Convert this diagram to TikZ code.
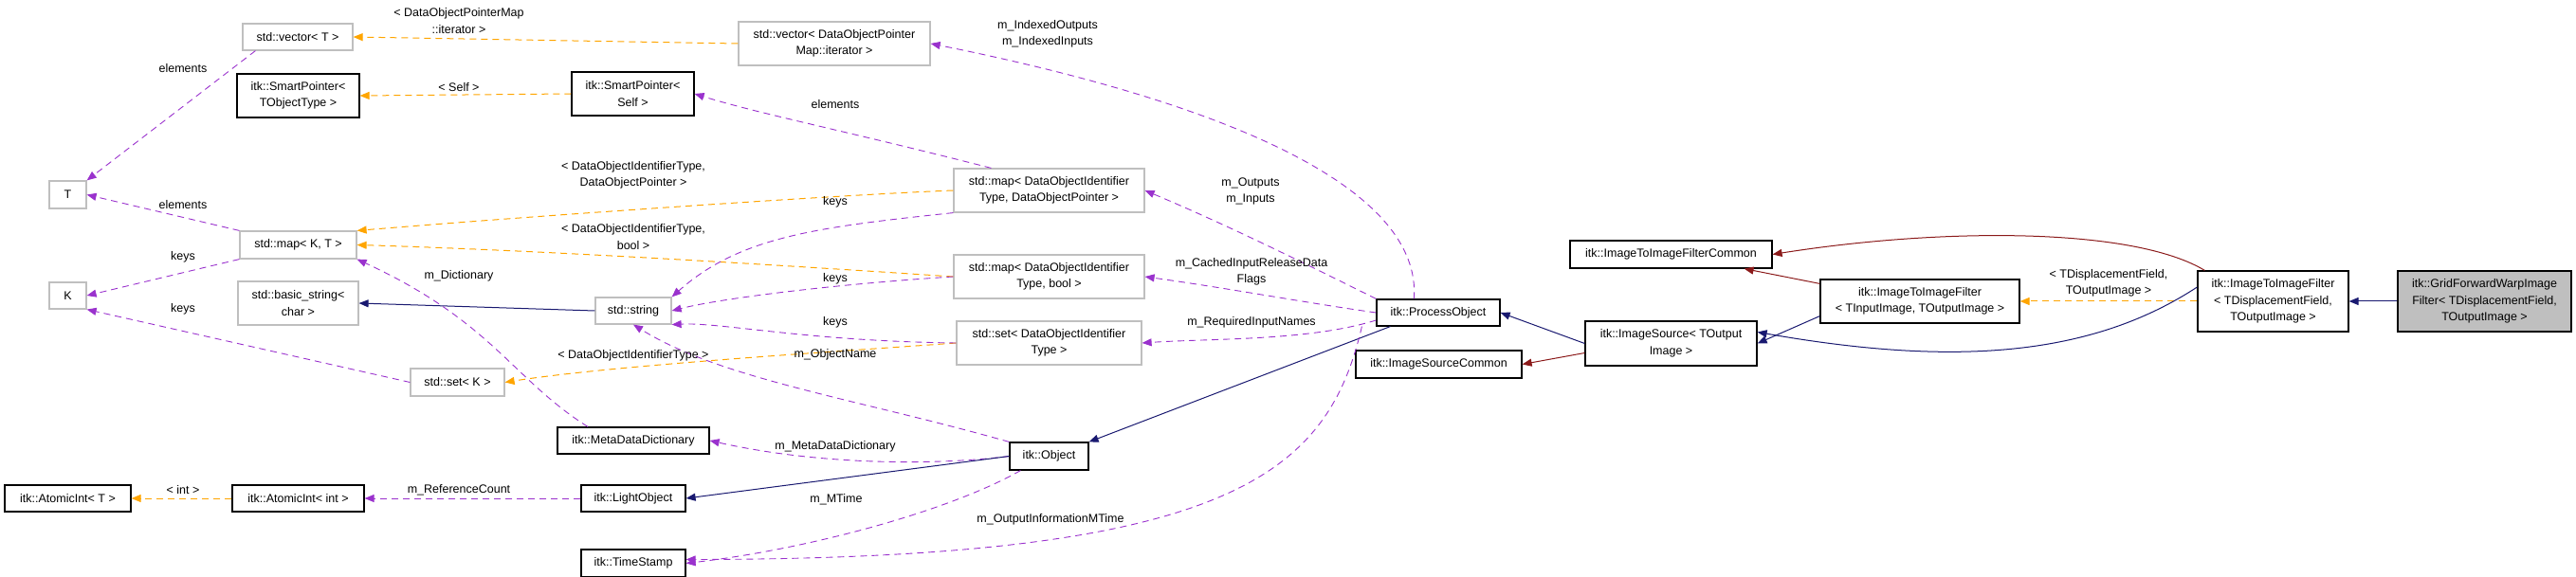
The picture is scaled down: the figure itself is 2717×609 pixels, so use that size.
\documentclass[tikz,border=0pt]{standalone}
\usepackage{fontspec}
\setmainfont{Liberation Sans}
\usetikzlibrary{arrows.meta}
\definecolor{pur}{HTML}{9A32CD}
\definecolor{org}{HTML}{FFA500}
\definecolor{nav}{HTML}{191970}
\definecolor{drd}{HTML}{8B1A1A}
\definecolor{gb}{HTML}{BFBFBF}
\begin{document}
\begin{tikzpicture}[x=1pt,y=-1pt,
  font=\fontsize{12.5}{17.5}\selectfont,
  box/.style={draw=black,line width=1.2pt,fill=white,align=center,inner sep=1pt},
  sbox/.style={draw=gb,line width=1.2pt,fill=white,align=center,inner sep=1pt},
  lab/.style={align=center,inner sep=0pt},
  tip/.style={-{Triangle[length=10pt,width=8pt]}},
  use/.style={tip,pur,dash pattern=on 7pt off 5pt,line width=0.9pt},
  tmpl/.style={tip,org,dash pattern=on 7pt off 5pt,line width=1pt},
  inh/.style={tip,nav,line width=1pt},
  prv/.style={tip,drd,line width=1pt}]
\useasboundingbox (0,0) rectangle (2717,609);
% nodes
\node[sbox,minimum width=116,minimum height=28] (vecT) at (314,39) {std::vector< T >};
\node[box,minimum width=129,minimum height=46] (spTO) at (314.5,101) {itk::SmartPointer<\\TObjectType >};
\node[sbox,minimum width=39,minimum height=29] (T) at (71.5,205.5) {T};
\node[sbox,minimum width=123,minimum height=29] (mapKT) at (314.5,258.5) {std::map< K, T >};
\node[sbox,minimum width=39,minimum height=28] (K) at (71.5,312) {K};
\node[sbox,minimum width=127,minimum height=46] (bstr) at (314.5,320) {std::basic\_string<\\char >};
\node[sbox,minimum width=99,minimum height=29] (setK) at (482.5,403.5) {std::set< K >};
\node[box,minimum width=160,minimum height=28] (mdd) at (668,465) {itk::MetaDataDictionary};
\node[box,minimum width=133,minimum height=28] (aiT) at (71.5,526) {itk::AtomicInt< T >};
\node[box,minimum width=139,minimum height=28] (aiI) at (314.5,526) {itk::AtomicInt< int >};
\node[box,minimum width=110,minimum height=28] (lobj) at (668,526) {itk::LightObject};
\node[box,minimum width=110,minimum height=29] (ts) at (668,594.5) {itk::TimeStamp};
\node[sbox,minimum width=202,minimum height=46] (vecIt) at (880,46) {std::vector< DataObjectPointer\\Map::iterator >};
\node[box,minimum width=129,minimum height=46] (spS) at (667.5,99) {itk::SmartPointer<\\Self >};
\node[sbox,minimum width=201,minimum height=46] (mapDOP) at (1106.5,201) {std::map< DataObjectIdentifier\\Type, DataObjectPointer >};
\node[sbox,minimum width=201,minimum height=46] (mapBool) at (1106.5,292) {std::map< DataObjectIdentifier\\Type, bool >};
\node[sbox,minimum width=80,minimum height=28] (str) at (668,328) {std::string};
\node[sbox,minimum width=195,minimum height=46] (setDO) at (1106.5,362) {std::set< DataObjectIdentifier\\Type >};
\node[box,minimum width=83,minimum height=29] (obj) at (1106.5,481.5) {itk::Object};
\node[box,minimum width=130,minimum height=28] (po) at (1517,330) {itk::ProcessObject};
\node[box,minimum width=175,minimum height=29] (isc) at (1517.5,384.5) {itk::ImageSourceCommon};
\node[box,minimum width=213,minimum height=29] (itifc) at (1762.5,268.5) {itk::ImageToImageFilterCommon};
\node[box,minimum width=210,minimum height=46] (itifTI) at (2025,318) {itk::ImageToImageFilter\\< TInputImage, TOutputImage >};
\node[box,minimum width=181,minimum height=47] (is) at (1762.5,362.5) {itk::ImageSource< TOutput\\Image >};
\node[box,minimum width=159,minimum height=64] (itifTD) at (2397.5,318) {itk::ImageToImageFilter\\< TDisplacementField,\\TOutputImage >};
\node[box,fill=gb,minimum width=183,minimum height=64] (grid) at (2620.5,318) {itk::GridForwardWarpImage\\Filter< TDisplacementField,\\TOutputImage >};
% edges
\draw[use] (vecT.south west) ++(14,0) coordinate (a1) -- (T.north east);
\draw[use] (mapKT.north west) -- (T.east);
\draw[use] (mapKT.south west) -- (K.east);
\draw[use] (setK.west) -- (K.south east);
\draw[tmpl] (vecIt.west) -- (vecT.east);
\draw[tmpl] (spS.west) -- (spTO.east);
\draw[tmpl] (mapDOP.west) .. controls (900,205) and (600,225) .. (mapKT.north east);
\draw[tmpl] (mapBool.west) .. controls (900,285) and (600,265) .. (mapKT.east);
\draw[tmpl] (setDO.west) .. controls (900,370) and (650,385) .. (setK.east);
\draw[inh] (str.west) -- (bstr.east);
\draw[use] (mdd.north) ++(-48,0) coordinate (a2) .. controls (540,400) and (520,340) .. (mapKT.south east);
\draw[use] (mapDOP.south west) .. controls (860,240) and (780,250) .. (str.north east);
\draw[use] (mapBool.west) .. controls (880,300) and (760,315) .. (str.east);
\draw[use] (setDO.west) .. controls (850,360) and (760,340) .. (str.south east);
\draw[use] (obj.north west) .. controls (900,420) and (760,400) .. (str.south);
\draw[use] (mapDOP.north west) ++(40,0) coordinate (a3) .. controls (900,140) and (800,120) .. (spS.east);
\draw[use] (po.north west) ++(40,0) coordinate (a4) .. controls (1500,200) and (1300,110) .. (vecIt.east);
\draw[use] (po.north west) .. controls (1380,280) and (1300,240) .. (mapDOP.east);
\draw[use] (po.west) .. controls (1380,320) and (1300,305) .. (mapBool.east);
\draw[use] (po.west) ++(0,8) coordinate (a5) .. controls (1380,360) and (1280,357) .. (setDO.east);
\draw[inh] (po.south west) ++(15,0) coordinate (a6) -- (obj.north east);
\draw[use] (obj.west) .. controls (980,492) and (860,490) .. (mdd.east);
\draw[inh] (obj.west) -- (lobj.east);
\draw[use] (lobj.west) -- (aiI.east);
\draw[tmpl] (aiI.west) -- (aiT.east);
\draw[use] (obj.south west) ++(12,0) coordinate (a7) .. controls (1000,540) and (850,580) .. (ts.east);
\draw[use] (po.south west) ++(-15,0) coordinate (a8) .. controls (1400,500) and (1300,590) .. ([yshift=4]ts.east);
\draw[inh] (is.west) -- (po.east);
\draw[prv] (is.west) ++(0,10) coordinate (a9) -- (isc.east);
\draw[inh] (itifTI.south west) ++(0,-8) coordinate (b1) -- (is.east);
\draw[prv] (itifTI.north west) ++(0,5) coordinate (b2) -- ([xshift=-30]itifc.south east);
\draw[tmpl] (itifTD.west) -- (itifTI.east);
\draw[prv] ([xshift=8]itifTD.north west) .. controls (2250,240) and (2050,240) .. (itifc.east);
\draw[inh] ([yshift=15]itifTD.west) .. controls (2200,380) and (2050,385) .. ([yshift=12]is.east);
\draw[inh] (grid.west) -- (itifTD.east);
% labels
\node[lab] (l1) at (193,72) {elements};
\node[lab] (l2) at (193,216) {elements};
\node[lab] (l3) at (193,271) {keys};
\node[lab] (l4) at (193,326) {keys};
\node[lab] (l5) at (484,22) {< DataObjectPointerMap\\::iterator >};
\node[lab] (l6) at (484,92) {< Self >};
\node[lab] (l7) at (668,185) {< DataObjectIdentifierType,\\DataObjectPointer >};
\node[lab] (l8) at (668,250) {< DataObjectIdentifierType,\\bool >};
\node[lab] (l9) at (668,375) {< DataObjectIdentifierType >};
\node[lab] (l10) at (484,291) {m\_Dictionary};
\node[lab] (l11) at (881,213) {keys};
\node[lab] (l12) at (881,294) {keys};
\node[lab] (l13) at (881,340) {keys};
\node[lab] (l14) at (881,374) {m\_ObjectName};
\node[lab] (l15) at (881,110) {elements};
\node[lab] (l16) at (1105,36) {m\_IndexedOutputs\\m\_IndexedInputs};
\node[lab] (l17) at (1319,202) {m\_Outputs\\m\_Inputs};
\node[lab] (l18) at (1320,287) {m\_CachedInputReleaseData\\Flags};
\node[lab] (l19) at (1320,340) {m\_RequiredInputNames};
\node[lab] (l20) at (881,471) {m\_MetaDataDictionary};
\node[lab] (l21) at (484,517) {m\_ReferenceCount};
\node[lab] (l22) at (193,517) {< int >};
\node[lab] (l23) at (882,527) {m\_MTime};
\node[lab] (l24) at (1108,548) {m\_OutputInformationMTime};
\node[lab] (l25) at (2224,299) {< TDisplacementField,\\TOutputImage >};
\end{tikzpicture}
\end{document}
